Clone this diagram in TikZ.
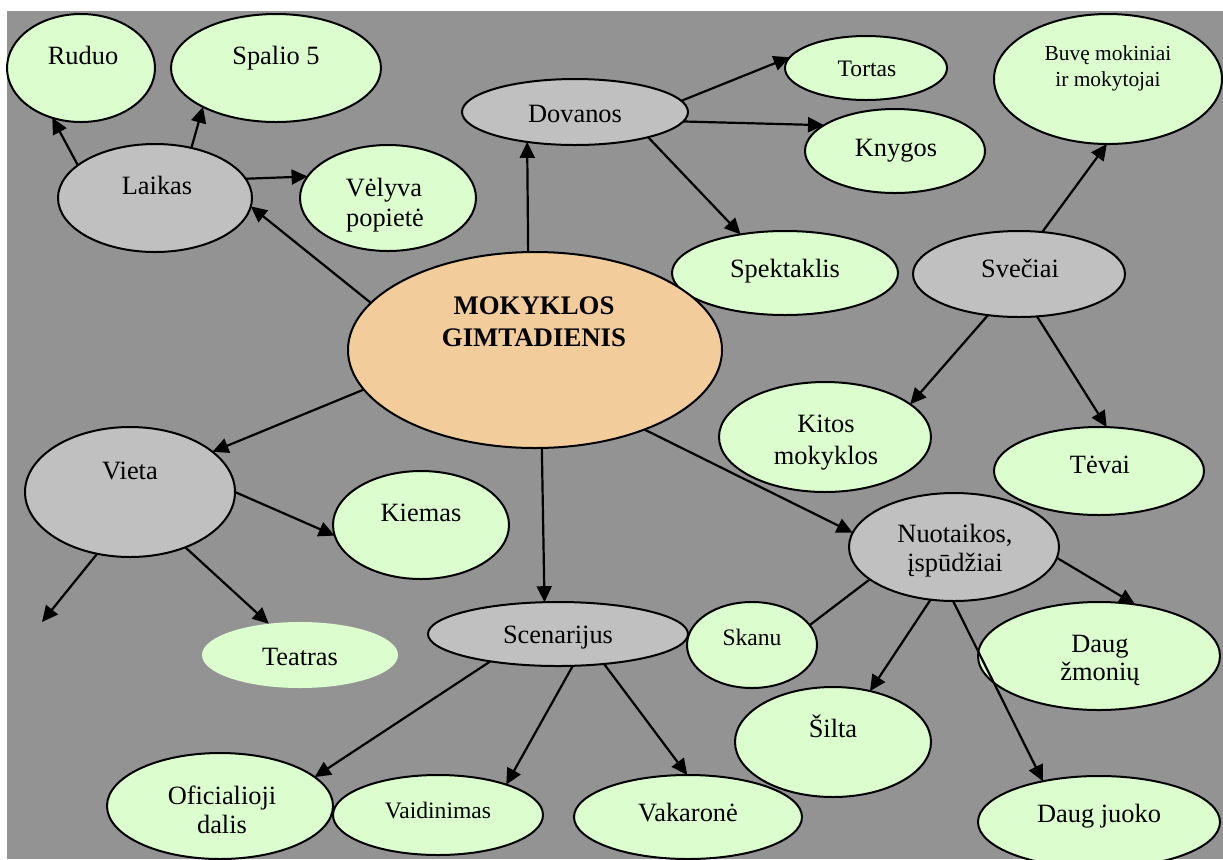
\documentclass[tikz,border=0pt]{standalone}
\usepackage{fontspec}
\setmainfont{Liberation Serif}
\usetikzlibrary{shapes.geometric,arrows.meta}
\definecolor{bggray}{RGB}{147,147,147}
\definecolor{leafgreen}{RGB}{220,254,207}
\definecolor{hubgray}{RGB}{192,192,192}
\definecolor{peach}{RGB}{242,205,155}
\begin{document}
\begin{tikzpicture}[x=0.5pt,y=-0.5pt,
  bub/.style={ellipse, draw=black, line width=1pt, inner sep=0pt, outer sep=0pt},
  leaf/.style={bub, fill=leafgreen},
  hub/.style={bub, fill=hubgray},
  centre/.style={bub, fill=peach},
  txt/.style={anchor=base, inner sep=0pt, font=\fontsize{13.2}{15}\selectfont},
  stxt/.style={anchor=base, inner sep=0pt, font=\fontsize{11.8}{14}\selectfont},
  xstxt/.style={anchor=base, inner sep=0pt, font=\fontsize{10.7}{13}\selectfont},
  btxt/.style={anchor=base, inner sep=0pt, font=\fontsize{13.4}{15}\selectfont\bfseries},
  arr/.style={line width=1.1pt, -{Triangle[length=8pt,width=7.5pt]}},
  plain/.style={line width=1.1pt}]
\useasboundingbox (0,0) rectangle (1223,859);
\fill[white] (0,0) rectangle (1223,859);
\fill[bggray] (7,11) rectangle (1223,859);

% ellipses
\node[leaf, minimum width=74pt, minimum height=54pt] (ruduo) at (81,68) {};
\node[leaf, minimum width=105pt, minimum height=54pt] (spalio) at (276,68) {};
\node[hub, minimum width=97pt, minimum height=54pt] (laikas) at (155,198) {};
\node[leaf, minimum width=88pt, minimum height=53pt] (velyva) at (388,198) {};
\node[hub, minimum width=113pt, minimum height=33pt] (dovanos) at (575,112) {};
\node[leaf, minimum width=81pt, minimum height=32pt] (tortas) at (866,68) {};
\node[leaf, minimum width=90pt, minimum height=42pt] (knygos) at (895,151) {};
\node[leaf, minimum width=114pt, minimum height=65pt] (buve) at (1108,79) {};
\node[leaf, minimum width=113pt, minimum height=42pt] (spekt) at (785,273) {};
\node[hub, minimum width=106pt, minimum height=43pt] (svec) at (1019,274) {};
\node[centre, minimum width=187pt, minimum height=98pt] (main) at (535,350) {};
\node[leaf, minimum width=106pt, minimum height=55pt] (kitos) at (825,437) {};
\node[leaf, minimum width=105pt, minimum height=44pt] (tevai) at (1099,471) {};
\node[hub, minimum width=105pt, minimum height=65pt] (vieta) at (130,492) {};
\node[leaf, minimum width=88pt, minimum height=54pt] (kiemas) at (421,525) {};
\node[ellipse, fill=leafgreen, inner sep=0pt, outer sep=0pt, minimum width=98pt, minimum height=33pt] (teatras) at (300,655) {};
\node[hub, minimum width=130pt, minimum height=32pt] (scen) at (558,634) {};
\node[leaf, minimum width=65pt, minimum height=43pt] (skanu) at (752,645) {};
\node[leaf, minimum width=98pt, minimum height=55pt] (silta) at (833,742) {};
\node[hub, minimum width=105pt, minimum height=54pt] (nuot) at (954,547) {};
\node[leaf, minimum width=121pt, minimum height=54pt] (dzm) at (1099,656) {};
\node[leaf, minimum width=121pt, minimum height=46pt] (djuoko) at (1099,822) {};
\node[leaf, minimum width=113pt, minimum height=53pt] (ofic) at (220,806) {};
\node[leaf, minimum width=105pt, minimum height=40pt] (vaid) at (438,815) {};
\node[leaf, minimum width=114pt, minimum height=42pt] (vak) at (688,817) {};

% texts
\node[txt] (ruduo-t) at (83,64) {Ruduo};
\node[txt] (spalio-t) at (276,64) {Spalio 5};
\node[txt] (laikas-t) at (157,194) {Laikas};
\node[txt] (velyva-t1) at (384,196) {Vėlyva};
\node[txt] (velyva-t2) at (385,226) {popietė};
\node[txt] (dovanos-t) at (575,122) {Dovanos};
\node[stxt] (tortas-t) at (867,76) {Tortas};
\node[txt] (knygos-t) at (896,156) {Knygos};
\node[xstxt] (buve-t1) at (1108,60) {Buvę mokiniai};
\node[xstxt] (buve-t2) at (1108,86) {ir mokytojai};
\node[txt] (spekt-t) at (785,277) {Spektaklis};
\node[txt] (svec-t) at (1020,277) {Svečiai};
\node[btxt] (main-t1) at (534,314) {MOKYKLOS};
\node[btxt] (main-t2) at (534,346) {GIMTADIENIS};
\node[txt] (kitos-t1) at (826,432) {Kitos};
\node[txt] (kitos-t2) at (826,464) {mokyklos};
\node[txt] (tevai-t) at (1100,473) {Tėvai};
\node[txt] (vieta-t) at (130,479) {Vieta};
\node[txt] (kiemas-t) at (421,521) {Kiemas};
\node[txt] (teatras-t) at (300,665) {Teatras};
\node[txt] (scen-t) at (558,643) {Scenarijus};
\node[stxt] (skanu-t) at (752,645) {Skanu};
\node[txt] (nuot-t1) at (955,542) {Nuotaikos,};
\node[txt] (nuot-t2) at (955,571) {įspūdžiai};
\node[txt] (dzm-t1) at (1100,652) {Daug};
\node[txt] (dzm-t2) at (1100,680) {žmonių};
\node[txt] (silta-t) at (833,737) {Šilta};
\node[txt] (djuoko-t) at (1099,822) {Daug juoko};
\node[txt] (ofic-t1) at (222,804) {Oficialioji};
\node[txt] (ofic-t2) at (222,833) {dalis};
\node[stxt] (vaid-t) at (438,818) {Vaidinimas};
\node[txt] (vak-t) at (688,821) {Vakaronė};

\coordinate (free) at (42,622);

% connectors
\draw[arr] (main.164.3) -- (laikas.-5);
\draw[arr] (laikas.157) -- (ruduo.240);
\draw[arr] (laikas.54.3) -- (spalio.208.7);
\draw[arr] (laikas.12.5) -- (velyva.165.3);
\draw[arr] (main.94.7) -- (dovanos.212);
\draw[arr] (dovanos.6.1) -- (tortas.172.5);
\draw[arr] (dovanos.-5.8) -- (knygos.160);
\draw[arr] (dovanos.-19.8) -- (spekt.139);
\draw[arr] (svec.61.4) -- (buve.269);
\draw[arr] (svec.233.3) -- (kitos.21.3);
\draw[arr] (svec.293.8) -- (tevai.80.1);
\draw[arr] (main.193.3) -- (vieta.26.1);
\draw[arr] (vieta.-0.5) -- (kiemas.187.7);
\draw[arr] (vieta.242.4) -- (free);
\draw[arr] (vieta.-45) -- (teatras.135);
\draw[arr] (main.274.1) -- (scen.113.8);
\draw[arr] (scen.202.5) -- (ofic.17.6);
\draw[arr] (scen.295.9) -- (vaid.24.5);
\draw[arr] (scen.-33.1) -- (vak.91.3);
\draw[arr] (main.-36.7) -- (nuot.172.5);
\draw[plain] (nuot.201.5) -- (skanu.19.9);
\draw[arr] (nuot.246.4) -- (silta.54);
\draw[arr] (nuot.269) -- (djuoko.144.9);
\draw[arr] (nuot.-6) -- (dzm.55.8);
\end{tikzpicture}
\end{document}
